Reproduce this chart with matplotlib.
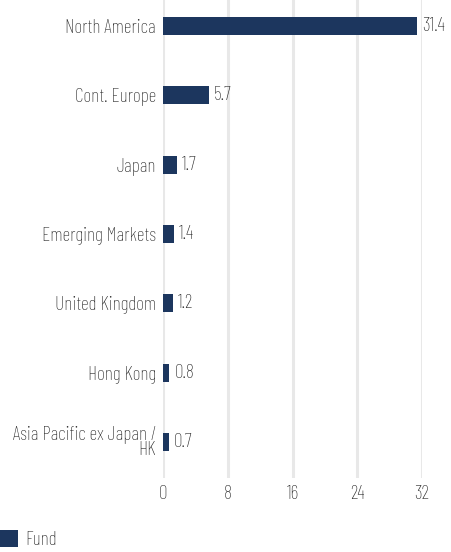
import matplotlib
matplotlib.use("Agg")
import matplotlib.pyplot as plt

# # Data

regions = ["North America", "Cont. Europe", "Japan", "Emerging Markets",
           "United Kingdom", "Hong Kong", "Asia Pacific ex Japan /\nHK"]
fund = [31.4, 5.7, 1.7, 1.4, 1.2, 0.8, 0.7]
x_ticks = [0, 8, 16, 24, 32]

BAR_COLOR = "#1c365e"
TEXT_COLOR = "#262626"
GRID_COLOR = "#e8e8e8"
FS = 14

plt.rcParams['font.family'] = ['Barlow Condensed', 'DejaVu Sans']
plt.rcParams['font.weight'] = 'light'

# # Plot

fig = plt.figure(figsize=(4.52, 5.52), dpi=100)
ax = fig.add_axes([163 / 452, 74 / 552, 259 / 452, 478 / 552])

pos = list(range(len(regions)))
ax.barh(pos, fund, height=0.26, color=BAR_COLOR, zorder=3, label="Fund")

for p, v in zip(pos, fund):
    ax.text(v + 0.6, p, f"{v}", va="center", ha="left", fontsize=FS,
            color=TEXT_COLOR, fontweight='light')

ax.set_xlim(0, 32)
ax.set_ylim(6.52, -0.375)
ax.set_xticks(x_ticks)
ax.set_yticks(pos)
ax.set_yticklabels(regions, fontsize=FS, color=TEXT_COLOR, linespacing=0.8)
ax.tick_params(axis='both', length=0, labelsize=FS, labelcolor=TEXT_COLOR)
ax.tick_params(axis='x', pad=5)
ax.tick_params(axis='y', pad=5)
ax.grid(axis='x', color=GRID_COLOR, linewidth=2.2, zorder=0)
for s in ax.spines.values():
    s.set_visible(False)

fig.legend(loc='lower left', bbox_to_anchor=(0, 0.005), frameon=False,
           fontsize=FS, handlelength=0.92, handleheight=0.92, handletextpad=0.4,
           borderpad=0.0, borderaxespad=0, labelcolor=TEXT_COLOR)

fig.savefig("out.png")
